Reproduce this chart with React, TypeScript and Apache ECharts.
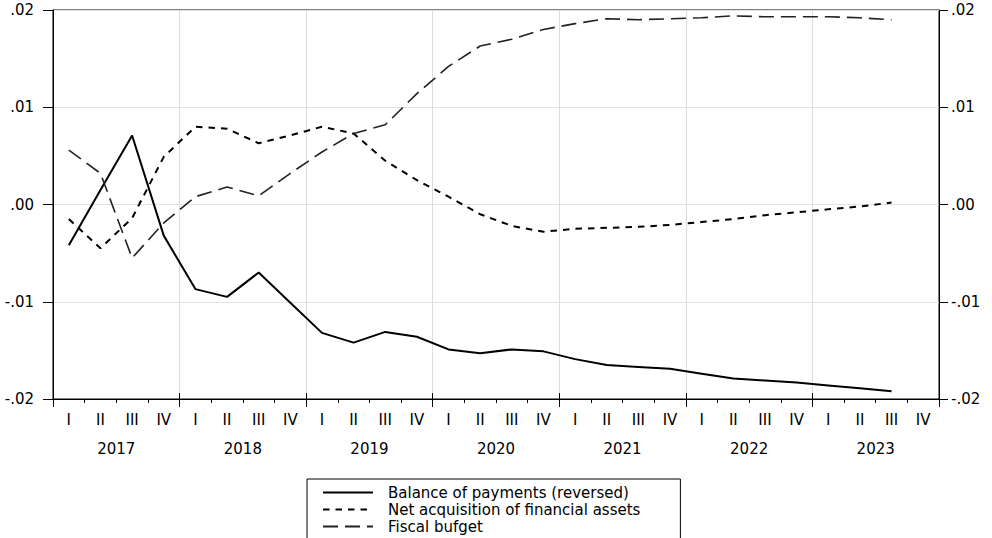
import React, { useEffect, useRef } from "react";
import * as echarts from "echarts";

// Quarterly axis, 2017 Q1 – 2023 Q4
const quarterLabels: string[] = [
  "I", "II", "III", "IV", "I", "II", "III", "IV", "I", "II", "III", "IV", "I", "II",
  "III", "IV", "I", "II", "III", "IV", "I", "II", "III", "IV", "I", "II", "III", "IV",
];
const years: string[] = ["2017", "2018", "2019", "2020", "2021", "2022", "2023"];

const balanceOfPayments: (number | null)[] = [
  -0.0042, 0.0015, 0.0071, -0.0032, -0.0087, -0.0095, -0.007, -0.0101,
  -0.0132, -0.0142, -0.0131, -0.0136, -0.0149, -0.0153, -0.0149, -0.0151,
  -0.0159, -0.0165, -0.0167, -0.0169, -0.0174, -0.0179, -0.0181, -0.0183,
  -0.0186, -0.0189, -0.0192, null,
];
const netAcquisition: (number | null)[] = [
  -0.0015, -0.0045, -0.0014, 0.0049, 0.008, 0.0078, 0.0063, 0.0071,
  0.008, 0.0073, 0.0045, 0.0025, 0.0008, -0.001, -0.0022, -0.0028,
  -0.0025, -0.0024, -0.0023, -0.0021, -0.0018, -0.0015, -0.0011, -0.0008,
  -0.0005, -0.0002, 0.0002, null,
];
const fiscalBudget: (number | null)[] = [
  0.0056, 0.0032, -0.0055, -0.0019, 0.0008, 0.0018, 0.0009, 0.0032,
  0.0054, 0.0073, 0.0082, 0.0114, 0.0142, 0.0163, 0.017, 0.018,
  0.0186, 0.0191, 0.019, 0.0191, 0.0192, 0.0194, 0.0193, 0.0193,
  0.0193, 0.0192, 0.019, null,
];

const FONT = "DejaVu Sans";

const fmtTick = (v: number): string => {
  if (Math.abs(v) < 1e-9) return ".00";
  const s = v.toFixed(2);
  return s.replace("0.", ".");
};

export default function App() {
  const ref = useRef<HTMLDivElement>(null);

  useEffect(() => {
    if (!ref.current) return;
    const chart = echarts.init(ref.current, undefined, { renderer: "svg" });

    const labelStyle = { fontFamily: FONT, fontSize: 15, color: "#000" };

    const yBase = {
      type: "value" as const,
      min: -0.02,
      max: 0.02,
      interval: 0.01,
      axisLine: { show: true, onZero: false, lineStyle: { color: "#000", width: 1 } },
    };

    chart.setOption({
      animation: false,
      backgroundColor: "#fff",
      grid: {
        left: 53,
        right: 53,
        top: 10,
        height: 389,
        show: true,
        borderColor: "#000",
        borderWidth: 1,
        backgroundColor: "transparent",
      },
      xAxis: [
        {
          type: "category",
          data: quarterLabels,
          position: "bottom",
          boundaryGap: true,
          axisLine: { show: true, onZero: false, lineStyle: { color: "#000", width: 1 } },
          axisTick: { show: true, interval: 0, length: 4, lineStyle: { color: "#000" } },
          axisLabel: { interval: 0, margin: 13, ...labelStyle },
          splitLine: { show: false },
        },
        {
          type: "category",
          data: years,
          position: "bottom",
          boundaryGap: true,
          axisLine: { show: false, onZero: false },
          axisTick: { show: true, length: 8, lineStyle: { color: "#000" } },
          axisLabel: { interval: 0, margin: 42, ...labelStyle },
          splitLine: { show: true, lineStyle: { color: "#dcdcdc", width: 1 } },
        },
        {
          type: "category",
          data: years,
          position: "bottom",
          boundaryGap: true,
          axisLine: { show: false, onZero: false },
          axisTick: { show: true, inside: true, length: 6, lineStyle: { color: "#000" } },
          axisLabel: { show: false },
          splitLine: { show: false },
        },
      ],
      yAxis: [
        {
          ...yBase,
          position: "left",
          axisTick: { show: true, length: 10, lineStyle: { color: "#000" } },
          axisLabel: { margin: 19, formatter: fmtTick, ...labelStyle },
          splitLine: { show: true, lineStyle: { color: "#e2e2e2", width: 1 } },
        },
        {
          ...yBase,
          position: "right",
          axisTick: { show: true, length: 9, lineStyle: { color: "#000" } },
          axisLabel: { margin: 12, formatter: fmtTick, ...labelStyle },
          splitLine: { show: false },
        },
      ],
      legend: {
        orient: "vertical",
        left: 307,
        top: 479,
        height: 200,
        itemWidth: 50,
        itemHeight: 14,
        itemGap: 2,
        padding: [6, 40, 20, 15],
        borderColor: "#000",
        borderWidth: 1,
        backgroundColor: "#fff",
        selectedMode: false,
        itemStyle: { opacity: 0, borderWidth: 0 },
        textStyle: {
          fontFamily: FONT,
          fontSize: 15,
          color: "#000",
          padding: [0, 0, 0, 10],
        },
        data: [
          "Balance of payments (reversed)",
          "Net acquisition of financial assets",
          "Fiscal bufget",
        ],
      },
      series: [
        {
          name: "Balance of payments (reversed)",
          type: "line",
          data: balanceOfPayments,
          xAxisIndex: 0,
          yAxisIndex: 0,
          symbol: "none",
          showSymbol: false,
          lineStyle: { color: "#000", width: 2, type: "solid" },
          itemStyle: { color: "#000" },
        },
        {
          name: "Net acquisition of financial assets",
          type: "line",
          data: netAcquisition,
          xAxisIndex: 0,
          yAxisIndex: 0,
          symbol: "none",
          showSymbol: false,
          lineStyle: { color: "#000", width: 2, type: [6.5, 6] },
          itemStyle: { color: "#000" },
        },
        {
          name: "Fiscal bufget",
          type: "line",
          data: fiscalBudget,
          xAxisIndex: 0,
          yAxisIndex: 0,
          symbol: "none",
          showSymbol: false,
          lineStyle: { color: "#222", width: 1.6, type: [15, 7] },
          itemStyle: { color: "#222" },
        },
      ],
    });

    return () => chart.dispose();
  }, []);

  return (
    <div
      ref={ref}
      style={{ position: "fixed", left: 0, top: 0, width: 992, height: 538, background: "#fff" }}
    />
  );
}
